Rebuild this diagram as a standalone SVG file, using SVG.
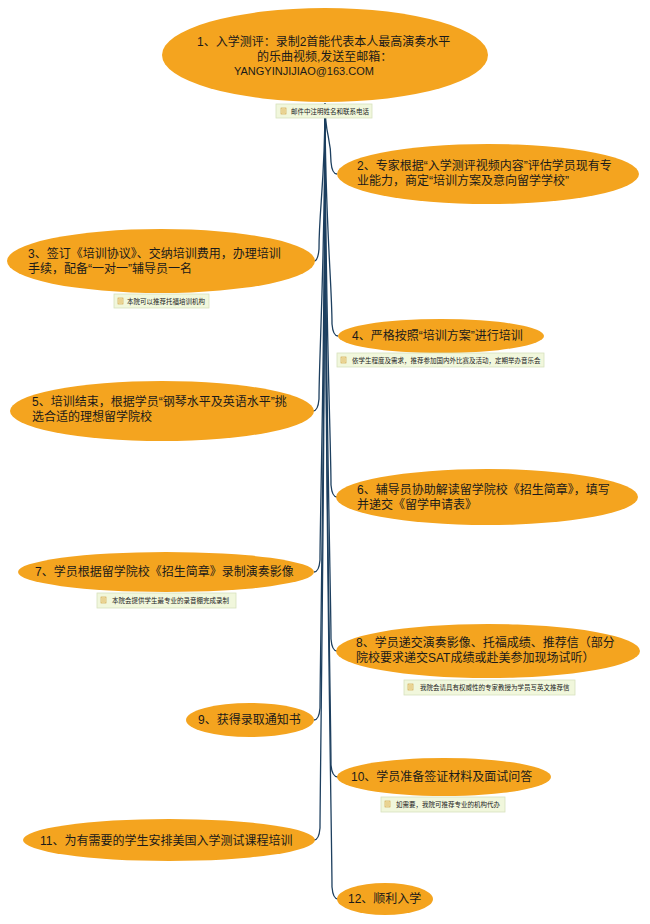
<svg xmlns="http://www.w3.org/2000/svg" width="650" height="924" viewBox="0 0 650 924">
<style>
.bg{fill:#ffffff}
.n{fill:#f4a41f}
.t{font-family:"Liberation Sans","Noto Sans CJK SC",sans-serif;font-size:12px;fill:#1a1a1a}
.c{fill:none;stroke:#1d3f5f;stroke-width:1.3}
.nb{fill:#f1f7dc;stroke:#d8e2bd;stroke-width:0.8}
.nt{font-family:"Noto Sans CJK SC","Liberation Sans",sans-serif;font-size:6.5px;fill:#222}
.ic{fill:#f7ebb8;stroke:#c99a3a;stroke-width:0.6}
.il{stroke:#c99a3a;stroke-width:0.6}
</style>
<defs>
<g id="icon"><rect class="ic" x="0" y="0" width="5" height="6"/><line class="il" x1="1" y1="2" x2="4" y2="2"/><line class="il" x1="1" y1="4" x2="4" y2="4"/></g>
</defs>
<rect class="bg" x="0" y="0" width="650" height="924"/>
<g id="connectors">
<path class="c" d="M325 103 C325 138 331 134 331 162 Q332 174 337 174"/>
<path class="c" d="M325 103 C325 182 319 209 319 249 Q318 261 314 261"/>
<path class="c" d="M325 103 C325 220 332 284 332 324 Q333 336 338 336"/>
<path class="c" d="M325 103 C325 257 319 359 319 399 Q318 411 313 411"/>
<path class="c" d="M325 103 C325 300 331 445 331 485 Q332 497 337 497"/>
<path class="c" d="M325 103 C325 338 320 520 320 560 Q319 572 314 572"/>
<path class="c" d="M325 103 C325 377 331 599 331 639 Q332 651 337 651"/>
<path class="c" d="M325 103 C325 412 320 668 320 708 Q319 720 314 720"/>
<path class="c" d="M325 103 C325 440 331 725 331 765 Q332 777 338 777"/>
<path class="c" d="M325 103 C325 472 320 788 320 828 Q319 840 314 840"/>
<path class="c" d="M325 103 C325 501 332 847 332 887 Q333 899 338 899"/>
</g>
<g id="node1">
<ellipse class="n" cx="325" cy="55" rx="163" ry="47"/>
<text class="t" x="197" y="46">1、入学测评：录制2首能代表本人最高演奏水平</text>
<text class="t" x="257" y="61">的乐曲视频,发送至邮箱：</text>
<text class="t" x="234" y="75" style="font-size:11px">YANGYINJIJIAO@163.COM</text>
<rect class="nb" x="276" y="104" width="96" height="14"/>
<use href="#icon" x="281" y="108"/>
<text class="nt" x="291" y="113.5">邮件中注明姓名和联系电话</text>
</g>
<g id="node2">
<ellipse class="n" cx="488" cy="174" rx="151" ry="30"/>
<text class="t" x="357" y="170">2、专家根据“入学测评视频内容”评估学员现有专</text>
<text class="t" x="357" y="185">业能力，商定“培训方案及意向留学学校”</text>
</g>
<g id="node3">
<ellipse class="n" cx="161" cy="261" rx="154" ry="32"/>
<text class="t" x="28" y="258">3、签订《培训协议》、交纳培训费用，办理培训</text>
<text class="t" x="28" y="273">手续，配备“一对一”辅导员一名</text>
<rect class="nb" x="114" y="294" width="95" height="14"/>
<use href="#icon" x="118" y="298"/>
<text class="nt" x="127" y="303.5">本院可以推荐托福培训机构</text>
</g>
<g id="node4">
<ellipse class="n" cx="441" cy="336" rx="103" ry="17"/>
<text class="t" x="352" y="340">4、严格按照“培训方案”进行培训</text>
<rect class="nb" x="337" y="353" width="207" height="14"/>
<use href="#icon" x="341" y="357"/>
<text class="nt" x="352" y="362.5">依学生程度及需求，推荐参加国内外比赛及活动，定期举办音乐会</text>
</g>
<g id="node5">
<ellipse class="n" cx="162" cy="411" rx="152" ry="30"/>
<text class="t" x="32" y="406">5、培训结束，根据学员“钢琴水平及英语水平”挑</text>
<text class="t" x="32" y="421">选合适的理想留学院校</text>
</g>
<g id="node6">
<ellipse class="n" cx="487" cy="497" rx="151" ry="28"/>
<text class="t" x="357" y="494">6、辅导员协助解读留学院校《招生简章》，填写</text>
<text class="t" x="357" y="509">并递交《留学申请表》</text>
</g>
<g id="node7">
<ellipse class="n" cx="166" cy="572" rx="148" ry="20"/>
<text class="t" x="35" y="576">7、学员根据留学院校《招生简章》录制演奏影像</text>
<rect class="nb" x="97" y="593" width="139" height="15"/>
<use href="#icon" x="101" y="597"/>
<text class="nt" x="112" y="603">本院会提供学生最专业的录音棚完成录制</text>
</g>
<g id="node8">
<ellipse class="n" cx="488" cy="651" rx="152" ry="27"/>
<text class="t" x="356" y="647">8、学员递交演奏影像、托福成绩、推荐信（部分</text>
<text class="t" x="356" y="662">院校要求递交SAT成绩或赴美参加现场试听）</text>
<rect class="nb" x="404" y="680" width="171" height="15"/>
<use href="#icon" x="408" y="684"/>
<text class="nt" x="420" y="690">我院会请具有权威性的专家教授为学员写英文推荐信</text>
</g>
<g id="node9">
<ellipse class="n" cx="250" cy="720" rx="64" ry="17"/>
<text class="t" x="198" y="724">9、获得录取通知书</text>
</g>
<g id="node10">
<ellipse class="n" cx="444" cy="777" rx="107" ry="19"/>
<text class="t" x="351" y="781">10、学员准备签证材料及面试问答</text>
<rect class="nb" x="381" y="797" width="124" height="15"/>
<use href="#icon" x="385" y="801"/>
<text class="nt" x="396" y="807">如需要，我院可推荐专业的机构代办</text>
</g>
<g id="node11">
<ellipse class="n" cx="169" cy="840" rx="146" ry="21"/>
<text class="t" x="40" y="845">11、为有需要的学生安排美国入学测试课程培训</text>
</g>
<g id="node12">
<ellipse class="n" cx="385" cy="899" rx="48" ry="16"/>
<text class="t" x="348" y="903">12、顺利入学</text>
</g>
</svg>
